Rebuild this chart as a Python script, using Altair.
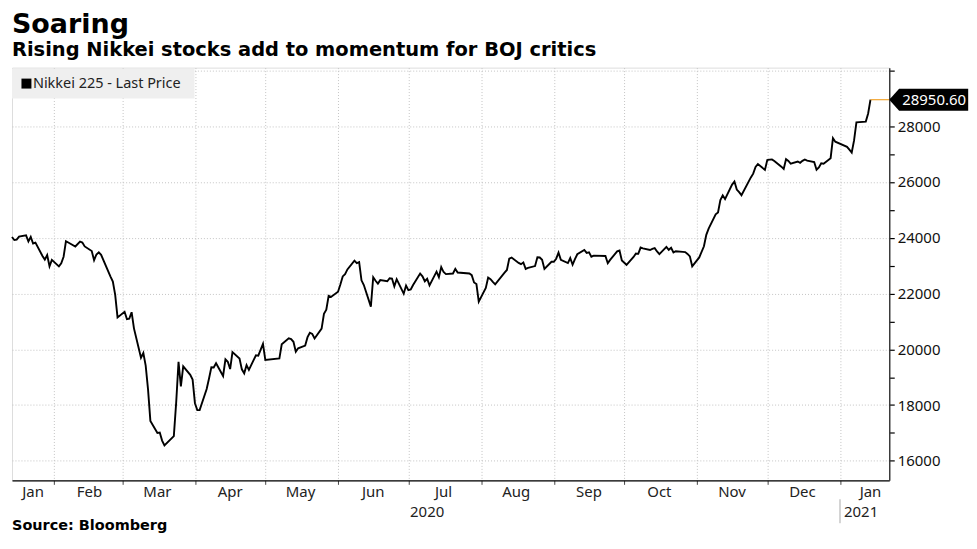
import altair as alt
import pandas as pd

# ---------------- data ----------------
dates = [
    "2020-01-14", "2020-01-15", "2020-01-16", "2020-01-17", "2020-01-20", "2020-01-21", "2020-01-22",
    "2020-01-23", "2020-01-24", "2020-01-27", "2020-01-28", "2020-01-29", "2020-01-30", "2020-01-31",
    "2020-02-03", "2020-02-04", "2020-02-05", "2020-02-06", "2020-02-07", "2020-02-10", "2020-02-12",
    "2020-02-13", "2020-02-14", "2020-02-17", "2020-02-18", "2020-02-19", "2020-02-20", "2020-02-21",
    "2020-02-25", "2020-02-26", "2020-02-27", "2020-02-28",
    "2020-03-02", "2020-03-03", "2020-03-04", "2020-03-05", "2020-03-06", "2020-03-09", "2020-03-10",
    "2020-03-11", "2020-03-12", "2020-03-13", "2020-03-16", "2020-03-17", "2020-03-18", "2020-03-19",
    "2020-03-23", "2020-03-24", "2020-03-25", "2020-03-26", "2020-03-27", "2020-03-30", "2020-03-31",
    "2020-04-01", "2020-04-02", "2020-04-03", "2020-04-06", "2020-04-07", "2020-04-08", "2020-04-09",
    "2020-04-10", "2020-04-13", "2020-04-14", "2020-04-15", "2020-04-16", "2020-04-17", "2020-04-20",
    "2020-04-21", "2020-04-22", "2020-04-23", "2020-04-24", "2020-04-27", "2020-04-28", "2020-04-30",
    "2020-05-01", "2020-05-07", "2020-05-08", "2020-05-11", "2020-05-12", "2020-05-13", "2020-05-14",
    "2020-05-15", "2020-05-18", "2020-05-19", "2020-05-20", "2020-05-21", "2020-05-22", "2020-05-25",
    "2020-05-26", "2020-05-27", "2020-05-28", "2020-05-29",
    "2020-06-01", "2020-06-02", "2020-06-03", "2020-06-04", "2020-06-05", "2020-06-08", "2020-06-09",
    "2020-06-10", "2020-06-11", "2020-06-12", "2020-06-15", "2020-06-16", "2020-06-17", "2020-06-18",
    "2020-06-19", "2020-06-22", "2020-06-23", "2020-06-24", "2020-06-25", "2020-06-26", "2020-06-29",
    "2020-06-30",
    "2020-07-01", "2020-07-02", "2020-07-03", "2020-07-06", "2020-07-07", "2020-07-08", "2020-07-09",
    "2020-07-10", "2020-07-13", "2020-07-14", "2020-07-15", "2020-07-16", "2020-07-17", "2020-07-20",
    "2020-07-21", "2020-07-22", "2020-07-27", "2020-07-28", "2020-07-29", "2020-07-30", "2020-07-31",
    "2020-08-03", "2020-08-04", "2020-08-05", "2020-08-06", "2020-08-07", "2020-08-11", "2020-08-12",
    "2020-08-13", "2020-08-14", "2020-08-17", "2020-08-18", "2020-08-19", "2020-08-20", "2020-08-21",
    "2020-08-24", "2020-08-25", "2020-08-26", "2020-08-27", "2020-08-28", "2020-08-31",
    "2020-09-01", "2020-09-02", "2020-09-03", "2020-09-04", "2020-09-07", "2020-09-08", "2020-09-09",
    "2020-09-10", "2020-09-11", "2020-09-14", "2020-09-15", "2020-09-16", "2020-09-17", "2020-09-18",
    "2020-09-23", "2020-09-24", "2020-09-25", "2020-09-28", "2020-09-29", "2020-09-30",
    "2020-10-02", "2020-10-05", "2020-10-06", "2020-10-07", "2020-10-08", "2020-10-09", "2020-10-12",
    "2020-10-13", "2020-10-14", "2020-10-15", "2020-10-16", "2020-10-19", "2020-10-20", "2020-10-21",
    "2020-10-22", "2020-10-23", "2020-10-26", "2020-10-27", "2020-10-28", "2020-10-29", "2020-10-30",
    "2020-11-02", "2020-11-04", "2020-11-05", "2020-11-06", "2020-11-09", "2020-11-10", "2020-11-11",
    "2020-11-12", "2020-11-13", "2020-11-16", "2020-11-17", "2020-11-18", "2020-11-19", "2020-11-20",
    "2020-11-24", "2020-11-25", "2020-11-26", "2020-11-27", "2020-11-30",
    "2020-12-01", "2020-12-02", "2020-12-03", "2020-12-04", "2020-12-07", "2020-12-08", "2020-12-09",
    "2020-12-10", "2020-12-11", "2020-12-14", "2020-12-15", "2020-12-16", "2020-12-17", "2020-12-18",
    "2020-12-21", "2020-12-22", "2020-12-23", "2020-12-24", "2020-12-25", "2020-12-28", "2020-12-29",
    "2020-12-30",
    "2021-01-04", "2021-01-05", "2021-01-06", "2021-01-07", "2021-01-08", "2021-01-12", "2021-01-13",
    "2021-01-14",
]

prices = [
    24025, 23917, 23933, 24041, 24083, 23865, 24031,
    23795, 23827, 23344, 23216, 23379, 22977, 23205,
    22972, 23085, 23320, 23874, 23828, 23686, 23861,
    23828, 23688, 23523, 23194, 23400, 23479, 23387,
    22606, 22426, 21949, 21143,
    21344, 21083, 21100, 21329, 20750, 19699, 19867,
    19416, 18560, 17431, 17002, 17012, 16727, 16553,
    16888, 18092, 19547, 18665, 19389, 19085, 18917,
    18066, 17819, 17820, 18576, 18950, 19353, 19345,
    19499, 19043, 19639, 19551, 19291, 19898, 19670,
    19281, 19138, 19430, 19262, 19784, 19772, 20194,
    19619, 19675, 20179, 20391, 20367, 20268, 19915,
    20037, 20134, 20434, 20595, 20553, 20388, 20742,
    21271, 21420, 21916, 21878,
    22062, 22326, 22614, 22696, 22864, 23178, 23092,
    23125, 22473, 22305, 21531, 22583, 22456, 22355,
    22479, 22438, 22549, 22535, 22260, 22513, 21995,
    22288,
    22122, 22146, 22306, 22714, 22614, 22439, 22529,
    22291, 22785, 22587, 22946, 22770, 22696, 22717,
    22885, 22751, 22716, 22657, 22397, 22340, 21710,
    22196, 22574, 22515, 22419, 22330, 22751, 22844,
    23250, 23289, 23097, 23051, 23111, 22881, 22921,
    22985, 23297, 23291, 23209, 22883, 23140,
    23138, 23248, 23466, 23206, 23090, 23274, 23033,
    23235, 23407, 23560, 23455, 23476, 23320, 23360,
    23347, 23088, 23205, 23512, 23540, 23185,
    23030, 23312, 23434, 23423, 23648, 23620, 23559,
    23602, 23627, 23508, 23411, 23672, 23568, 23640,
    23475, 23517, 23495, 23486, 23419, 23332, 22977,
    23295, 23695, 24105, 24325, 24839, 24905, 25350,
    25520, 25385, 25907, 26015, 25728, 25634, 25527,
    26165, 26297, 26537, 26645, 26434,
    26788, 26801, 26809, 26751, 26548, 26467, 26818,
    26756, 26653, 26733, 26688, 26758, 26807, 26764,
    26715, 26437, 26524, 26669, 26657, 26855, 27568,
    27444,
    27258, 27159, 27056, 27491, 28139, 28164, 28457,
    28950.60,
]

month_labels = ["Jan", "Feb", "Mar", "Apr", "May", "Jun", "Jul",
                "Aug", "Sep", "Oct", "Nov", "Dec", "Jan"]
month_label_dates = ["2020-01-23", "2020-02-16", "2020-03-16", "2020-04-16", "2020-05-16",
                     "2020-06-16", "2020-07-16", "2020-08-16", "2020-09-16", "2020-10-16",
                     "2020-11-16", "2020-12-16", "2021-01-14"]
year_labels = ["2020", "2021"]
year_label_dates = ["2020-07-09", "2021-01-10"]
year_break_dates = ["2021-01-01"]

y_ticks = list(range(16000, 30001, 1000))
y_domain = [15300, 30100]

title_text = "Soaring"
subtitle_text = "Rising Nikkei stocks add to momentum for BOJ critics"
legend_text = "Nikkei 225 - Last Price"
source_text = "Source: Bloomberg"

# ---------------- layout ----------------
W, H = 880, 414
AX_FONT = "Noto Sans"
BOLD_FONT = "DejaVu Sans"

df = pd.DataFrame({"date": dates, "price": prices})
last = pd.DataFrame({"date": [dates[-1]], "price": [prices[-1]],
                     "label": [f"{prices[-1]:.2f}"]})
mlab = pd.DataFrame({"date": month_label_dates, "label": month_labels})
ylab = pd.DataFrame({"date": year_label_dates, "label": year_labels})
ybrk = pd.DataFrame({"date": year_break_dates})
one = pd.DataFrame({"t": [legend_text], "s": [source_text]})

xscale = alt.Scale(type="utc", domain=[alt.DateTime(year=2020, month=1, date=14, utc=True),
                                       alt.DateTime(year=2021, month=1, date=22, utc=True)])
yscale = alt.Scale(domain=y_domain, nice=False, zero=False)

xaxis = alt.Axis(title=None, labels=False, tickCount={"interval": "month", "step": 1},
                 grid=True, gridDash=[1, 2], gridColor="#c4c4c4", gridWidth=1,
                 domainColor="#000000", domainWidth=1.4, tickColor="#444444",
                 tickSize=4, tickWidth=1)
yaxis = alt.Axis(title=None, orient="right", values=y_ticks,
                 labelExpr="(datum.value % 2000 == 0 && datum.value < 29000) ? format(datum.value, 'd') : ''",
                 grid=True, gridDash=[1, 2], gridColor="#c4c4c4", gridWidth=1,
                 gridOpacity={"condition": {"test": "datum.value % 2000 == 0", "value": 1}, "value": 0},
                 domainColor="#333333", domainWidth=1.4, tickColor="#000000", tickSize=5,
                 tickWidth=1.2, labelFont=AX_FONT, labelFontSize=15, labelColor="#111111",
                 labelPadding=3)


def X(field="date:T"):
    return alt.X(field, scale=xscale, axis=xaxis)


def Y(field="price:Q"):
    return alt.Y(field, scale=yscale, axis=yaxis)


line = alt.Chart(df).mark_line(color="#000000", strokeWidth=1.9).encode(x=X(), y=Y())

last_rule = alt.Chart(last).mark_rule(color="#f2a531", strokeWidth=1.2).encode(
    x=X(), x2=alt.value(W), y=Y())

tag_path = "M0,0L0.9,-1L7.2,-1L7.2,1L0.9,1Z"
tag = alt.Chart(last).mark_point(shape=tag_path, size=484, filled=True, color="#000000",
                                 opacity=1, strokeWidth=0).encode(x=alt.value(W), y=Y())
tag_text = alt.Chart(last).mark_text(color="#ffffff", font=AX_FONT, fontSize=15,
                                     align="center", baseline="middle").encode(
    x=alt.value(W + 45), y=Y(), text="label:N")

months = alt.Chart(mlab).mark_text(font=AX_FONT, fontSize=15, color="#222222",
                                   baseline="middle", align="center").encode(
    x=X(), y=alt.value(H + 12), text="label:N")
years = alt.Chart(ylab).mark_text(font=AX_FONT, fontSize=15, color="#222222",
                                  baseline="middle", align="center").encode(
    x=X(), y=alt.value(H + 32), text="label:N")
year_break = alt.Chart(ybrk).mark_rule(color="#aaaaaa", strokeWidth=1).encode(
    x=X(), y=alt.value(H + 19), y2=alt.value(H + 43))

legend_box = alt.Chart(one).mark_rect(color="#efefef").encode(
    x=alt.value(0), x2=alt.value(183), y=alt.value(1), y2=alt.value(31))
legend_sym = alt.Chart(one).mark_point(shape="square", size=100, filled=True, color="#000000",
                                       opacity=1, strokeWidth=0).encode(
    x=alt.value(14.5), y=alt.value(16))
legend_txt = alt.Chart(one).mark_text(font=AX_FONT, fontSize=14.5, color="#222222",
                                      align="left", baseline="middle").encode(
    x=alt.value(21), y=alt.value(16), text="t:N")

source = alt.Chart(one).mark_text(font=BOLD_FONT, fontSize=14.5, fontWeight="bold",
                                  color="#000000", align="left", baseline="alphabetic").encode(
    x=alt.value(0), y=alt.value(H + 50), text="s:N")

chart = alt.layer(
    line, last_rule, legend_box, legend_sym, legend_txt, tag, tag_text,
    months, years, year_break, source
).properties(
    width=W, height=H,
    padding={"left": 0, "top": 2, "right": 0, "bottom": 0},
    title=alt.TitleParams(
        text=title_text, subtitle=subtitle_text, anchor="start", frame="group",
        font=BOLD_FONT, fontSize=27, fontWeight="bold", color="#000000",
        subtitleFont=BOLD_FONT, subtitleFontSize=19.5, subtitleFontWeight="bold",
        subtitleColor="#000000", subtitlePadding=2, offset=7, baseline="top"),
).configure_view(stroke=None).configure(background="#ffffff")

chart.save("out.html", embed_options={"renderer": "svg", "actions": False})
